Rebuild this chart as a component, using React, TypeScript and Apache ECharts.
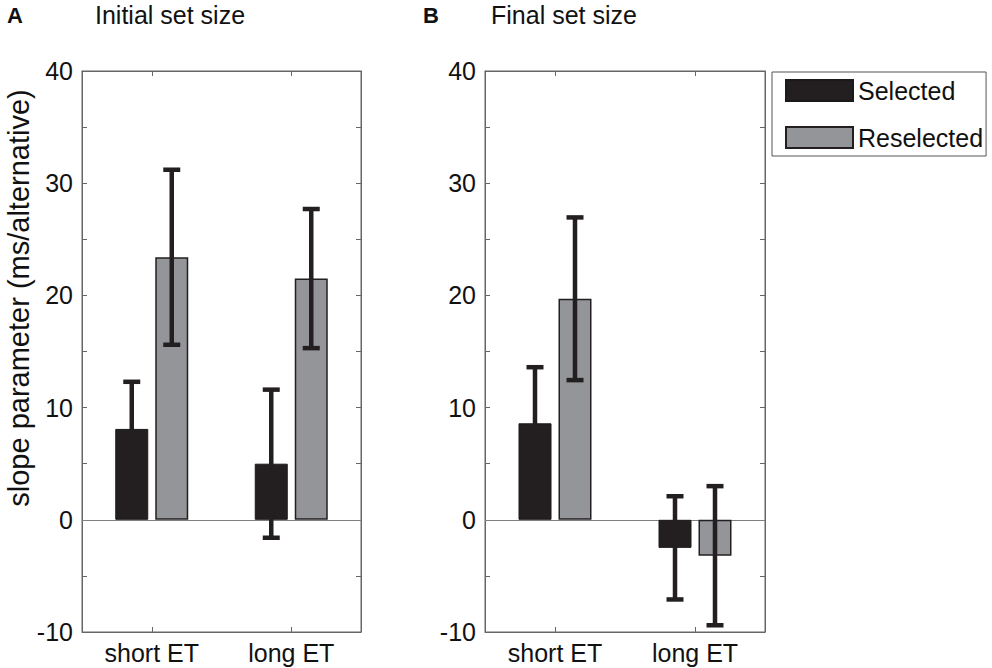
import React, { useEffect, useRef } from "react";
import * as echarts from "echarts";

const categories = ["short ET", "long ET"];
const seriesNames = ["Selected", "Reselected"];
const yTicks = [-10, 0, 10, 20, 30, 40];

// Panel A: Initial set size
const selectedA = [8.1, 5.0];
const selectedErrA = [4.2, 6.6];
const reselectedA = [23.4, 21.5];
const reselectedErrA = [7.8, 6.2];

// Panel B: Final set size
const selectedB = [8.6, -2.5];
const selectedErrB = [5.0, 4.6];
const reselectedB = [19.7, -3.2];
const reselectedErrB = [7.25, 6.2];

const FONT = '"Liberation Sans", Arial, Helvetica, sans-serif';
const BAR_W = 33;
const BAR_GAP = 7;
const AXIS_COLOR = "#666";
const INK = "#231f20";

function errorSeries(xIdx: number, yIdx: number, vals: number[], errs: number[], offset: number) {
  return {
    type: "custom",
    xAxisIndex: xIdx,
    yAxisIndex: yIdx,
    z: 10,
    silent: true,
    data: vals.map((v, i) => [i, v - errs[i], v + errs[i]]),
    encode: { x: 0, y: [1, 2] },
    renderItem: (params: any, api: any) => {
      const i = api.value(0);
      const lo = api.coord([i, api.value(1)]);
      const hi = api.coord([i, api.value(2)]);
      const x = lo[0] + offset;
      const style = { stroke: INK, lineWidth: 4.5 };
      const cap = 8.5;
      return {
        type: "group",
        children: [
          { type: "line", shape: { x1: x, y1: lo[1], x2: x, y2: hi[1] }, style },
          { type: "line", shape: { x1: x - cap, y1: hi[1], x2: x + cap, y2: hi[1] }, style },
          { type: "line", shape: { x1: x - cap, y1: lo[1], x2: x + cap, y2: lo[1] }, style },
        ],
      };
    },
  };
}

function barSeries(name: string, xIdx: number, yIdx: number, vals: number[], color: string, border: string, bw: number, withZero: boolean) {
  const s: any = {
    name,
    type: "bar",
    xAxisIndex: xIdx,
    yAxisIndex: yIdx,
    data: vals,
    barWidth: BAR_W,
    barGap: (BAR_GAP / BAR_W) * 100 + "%",
    itemStyle: { color, borderColor: border, borderWidth: bw },
  };
  if (withZero) {
    s.markLine = {
      silent: true,
      symbol: ["none", "none"],
      label: { show: false },
      lineStyle: { color: "#808080", width: 1, type: "solid" },
      data: [{ yAxis: 0 }],
      z: 1,
    };
  }
  return s;
}

function xAxis(gridIndex: number, position: string, labels: boolean) {
  return {
    type: "category",
    show: true,
    gridIndex,
    position,
    offset: 0,
    data: categories,
    boundaryGap: true,
    axisLine: { show: true, onZero: false, lineStyle: { color: AXIS_COLOR, width: 1 } },
    axisTick: { show: true, inside: true, alignWithLabel: true, length: 5, lineStyle: { color: AXIS_COLOR } },
    splitLine: { show: false },
    axisLabel: labels
      ? { show: true, fontSize: 25, fontFamily: FONT, color: "#111", margin: 8 }
      : { show: false },
  };
}

function yAxis(gridIndex: number, position: string, labels: boolean) {
  return {
    type: "value",
    show: true,
    gridIndex,
    position,
    offset: 0,
    min: -10,
    max: 40,
    interval: 5,
    axisLine: { show: true, onZero: false, lineStyle: { color: AXIS_COLOR, width: 1 } },
    axisTick: { show: true, inside: true, length: 5, lineStyle: { color: AXIS_COLOR } },
    splitLine: { show: false },
    axisLabel: labels
      ? {
          show: true,
          fontSize: 25,
          fontFamily: FONT,
          color: "#111",
          margin: 9,
          formatter: (v: number) => (yTicks.indexOf(v) >= 0 ? String(v) : ""),
        }
      : { show: false },
  };
}

export default function App() {
  const ref = useRef<HTMLDivElement>(null);
  useEffect(() => {
    if (!ref.current) return;
    const chart = echarts.init(ref.current, undefined, { renderer: "svg" });
    const off = (BAR_W + BAR_GAP) / 2;
    const titleStyle = { fontSize: 25, fontFamily: FONT, fill: "#111", textVerticalAlign: "middle" };
    const letterStyle = { fontSize: 22, fontWeight: "bold", fontFamily: FONT, fill: "#111", textVerticalAlign: "middle" };
    const gridCommon = { show: true, borderColor: AXIS_COLOR, borderWidth: 1, backgroundColor: "transparent" };
    const option: any = {
      animation: false,
      backgroundColor: "#fff",
      grid: [
        { ...gridCommon, left: 82, top: 71, width: 279, height: 561 },
        { ...gridCommon, left: 485, top: 71, width: 280, height: 561 },
      ],
      xAxis: [
        xAxis(0, "bottom", true),
        xAxis(0, "top", false),
        xAxis(1, "bottom", true),
        xAxis(1, "top", false),
      ],
      yAxis: [
        yAxis(0, "left", true),
        yAxis(0, "right", false),
        yAxis(1, "left", true),
        yAxis(1, "right", false),
      ],
      legend: {
        data: seriesNames,
        orient: "vertical",
        left: 772,
        top: 72,
        icon: "rect",
        itemWidth: 67,
        itemHeight: 21,
        itemGap: 22,
        padding: [6, 3, 6, 13],
        borderColor: "#555",
        borderWidth: 1,
        selectedMode: false,
        textStyle: { fontSize: 25, fontFamily: FONT, color: "#111", lineHeight: 21 },
      },
      graphic: [
        { type: "text", x: 7, y: 15, style: { text: "A", ...letterStyle } },
        { type: "text", x: 95, y: 14.5, style: { text: "Initial set size", ...titleStyle } },
        { type: "text", x: 423, y: 15, style: { text: "B", ...letterStyle } },
        { type: "text", x: 491, y: 14.5, style: { text: "Final set size", ...titleStyle } },
        {
          type: "text",
          x: 19,
          y: 298,
          rotation: Math.PI / 2,
          style: {
            text: "slope parameter (ms/alternative)",
            fontSize: 29,
            fontFamily: FONT,
            fill: "#111",
            textAlign: "center",
            textVerticalAlign: "middle",
          },
        },
      ],
      series: [
        barSeries("Selected", 0, 0, selectedA, INK, "#1a1a1a", 1, true),
        barSeries("Reselected", 0, 0, reselectedA, "#939598", INK, 1.5, false),
        errorSeries(0, 0, selectedA, selectedErrA, -off),
        errorSeries(0, 0, reselectedA, reselectedErrA, off),
        barSeries("Selected", 2, 2, selectedB, INK, "#1a1a1a", 1, true),
        barSeries("Reselected", 2, 2, reselectedB, "#939598", INK, 1.5, false),
        errorSeries(2, 2, selectedB, selectedErrB, -off),
        errorSeries(2, 2, reselectedB, reselectedErrB, off),
      ],
    };
    chart.setOption(option);
    return () => chart.dispose();
  }, []);
  return <div ref={ref} style={{ position: "absolute", left: 0, top: 0, width: 992, height: 668 }} />;
}
